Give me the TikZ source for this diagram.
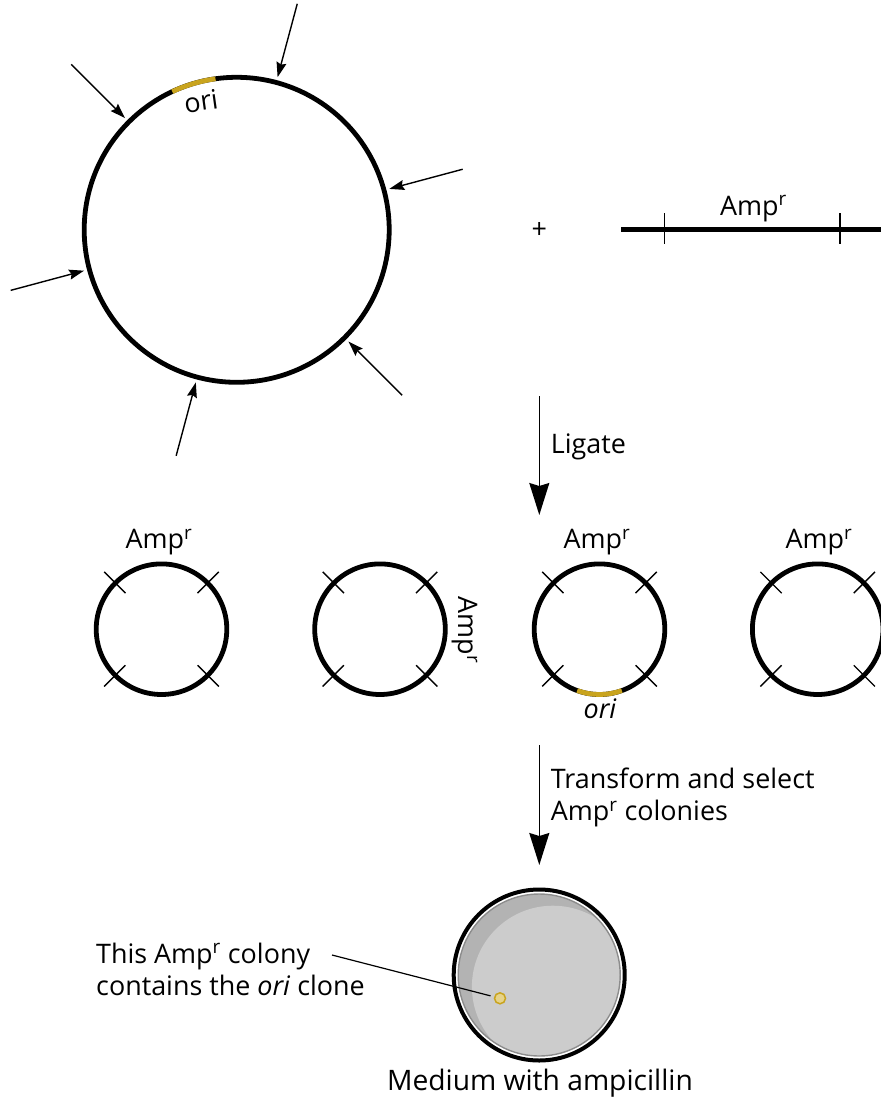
\documentclass[tikz,border=0pt]{standalone}
\usepackage{fontspec}
\setmainfont{Open Sans}
\usetikzlibrary{arrows.meta,calc}
\definecolor{origold}{HTML}{C9A41E}
\definecolor{dishlight}{HTML}{CCCCCC}
\definecolor{dishdark}{HTML}{B3B3B3}
\definecolor{dishrim}{HTML}{8C8C8C}
\definecolor{colonyfill}{HTML}{E6D38A}
\newcommand{\Ampr}{Amp\textsuperscript{r}}

\begin{document}
\begin{tikzpicture}[x=1pt,y=-1pt,
  dna/.style={line width=4.8pt},
  orisegment/.style={line width=4.8pt, draw=origold},
  cutarrow/.style={line width=1.4pt,-{Stealth[length=15pt,width=10pt,inset=2pt]}},
  steparrow/.style={line width=1.5pt,-{Stealth[length=32pt,width=20pt,inset=3pt]}},
  sitetick/.style={line width=1.4pt},
  lbl/.style={font=\fontsize{26.9}{32.4}\selectfont, inner sep=0pt},
]
\useasboundingbox (0,0) rectangle (880,1099);

% ---- vector plasmid with its restriction sites ----
\coordinate (P) at (236.7,229.8);
\draw[dna] (P) circle[radius=152.5pt];
\draw[orisegment] ($(P)+(98:152.5pt)$) arc[start angle=98,end angle=115,radius=152.5pt];
\node[lbl,rotate=8] (orilbl) at (201,101) {ori};
\foreach \a [count=\i] in {15,75,135,195,255,315}
  \draw[cutarrow] ($(P)+(\a:234pt)$) coordinate (cutfrom\i) -- ($(P)+(\a:158pt)$) coordinate (cutto\i);

% ---- plus sign and the Amp^r fragment ----
\node[lbl] (plus) at (539.3,230.5) {+};
\coordinate (fragL) at (621,229.3);
\coordinate (fragR) at (885,229.3);
\draw[dna] (fragL) -- (fragR);
\draw[sitetick] (664.3,213.3) coordinate (tA) -- (664.3,244.3) coordinate (tB);
\draw[sitetick] (840,213.3) coordinate (tC) -- (840,244.3) coordinate (tD);
\node[lbl,anchor=base] (fraglbl) at (753.5,215) {\Ampr};

% ---- ligation step ----
\coordinate (lig1) at (539.3,396);
\coordinate (lig2) at (539.3,515);
\draw[steparrow] (lig1) -- (lig2);
\node[lbl,anchor=base west] (ligate) at (550.7,453.3) {Ligate};

% ---- ligation products ----
\foreach \x [count=\i] in {161.5,380,599.5,817.7} {
  \coordinate (c\i) at (\x,629.2);
  \draw[dna] (c\i) circle[radius=65.3pt];
  \foreach \t in {45,135,225,315}
    \draw[sitetick] ($(c\i)+(\t:51pt)$) -- ($(c\i)+(\t:81pt)$);
}
\draw[orisegment] ($(c3)+(250:65.3pt)$) arc[start angle=250,end angle=290,radius=65.3pt];
\node[lbl,anchor=base] (amp1) at (159,548.3) {\Ampr};
\node[lbl,anchor=base,rotate=-90] (amp2) at (458,630) {\Ampr};
\node[lbl,anchor=base] (amp3) at (597,548.3) {\Ampr};
\node[lbl,anchor=base] (amp4) at (819,548.3) {\Ampr};
\node[lbl,anchor=base] (ori3) at (600,718) {\itshape ori};

% ---- transformation step ----
\coordinate (tr1) at (539.3,745);
\coordinate (tr2) at (539.3,865);
\draw[steparrow] (tr1) -- (tr2);
\node[lbl,anchor=base west] (trA) at (550.7,788.3) {Transform and select};
\node[lbl,anchor=base west] (trB) at (550.7,820.7) {\Ampr{} colonies};

% ---- selective plate ----
\coordinate (D) at (539.2,975);
\fill[dishdark] (D) circle[radius=81pt];
\begin{scope}
  \clip (D) circle[radius=81pt];
  \fill[dishlight] ($(D)+(13.7,11.7)$) circle[radius=81pt];
\end{scope}
\draw[dishrim,line width=1.4pt] (D) circle[radius=81pt];
\draw[line width=4pt] (D) circle[radius=85.5pt];
\node[circle,draw=origold,fill=colonyfill,line width=1.5pt,minimum size=11pt,inner sep=0pt] (colony) at (500,998.3) {};
\coordinate (ptr) at (332,955);
\draw[line width=1.2pt,shorten >=3.5pt] (ptr) -- (colony);
\node[lbl,anchor=base west] (noteA) at (96,963) {This \Ampr{} colony};
\node[lbl,anchor=base west] (noteB) at (96,995) {contains the \textit{ori} clone};
\node[lbl,font=\fontsize{28.2}{32.4}\selectfont,anchor=base] (medium) at (540,1090) {Medium with ampicillin};
\end{tikzpicture}
\end{document}
